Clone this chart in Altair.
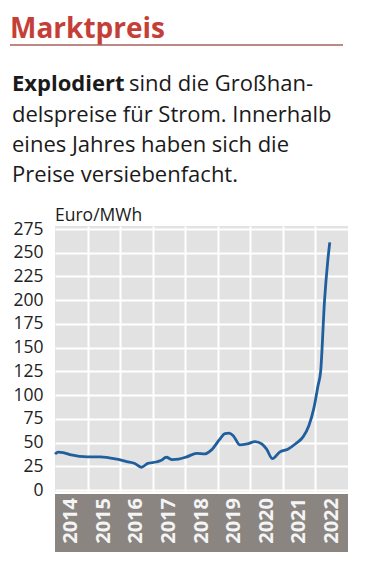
import altair as alt
import pandas as pd

# --- data ---
years_t = [2014.0, 2014.1, 2014.25, 2014.5, 2014.75, 2015.0, 2015.4, 2015.9, 2016.2, 2016.45,
           2016.65, 2016.85, 2017.1, 2017.25, 2017.42, 2017.6, 2017.8, 2018.05, 2018.35, 2018.6,
           2018.8, 2019.05, 2019.22, 2019.35, 2019.48, 2019.68, 2019.9, 2020.15, 2020.35, 2020.5,
           2020.68, 2020.9, 2021.15, 2021.4, 2021.62, 2021.8, 2021.95, 2022.08, 2022.16, 2022.28,
           2022.38, 2022.44]
prices = [38, 40, 39.5, 37, 35.5, 35, 35, 32.5, 30, 28,
          24, 28, 29.5, 31, 34.5, 32, 32.5, 35, 38.5, 38,
          42, 53, 59.5, 60, 57, 47.5, 48.5, 51, 48.5, 43,
          33, 40, 43, 49, 56, 68, 86, 110, 125, 200,
          242, 261]
year_labels = [2014, 2015, 2016, 2017, 2018, 2019, 2020, 2021, 2022]
y_ticks = [0, 25, 50, 75, 100, 125, 150, 175, 200, 225, 250, 275]

title_text = "Marktpreis"
lead_bold = "Explodiert"
lead_rest = " sind die Großhan-"
sub_lines = ["delspreise für Strom. Innerhalb", "eines Jahres haben sich die", "Preise versiebenfacht."]
unit_text = "Euro/MWh"

FONT = "Open Sans"
W, H = 293, 266

df = pd.DataFrame({"year": years_t, "price": prices})
df_years = pd.DataFrame({"label": [str(y) for y in year_labels], "mid": [y + 0.5 for y in year_labels]})
df_band = pd.DataFrame({"a": [2014], "b": [2023]})

xscale = alt.Scale(domain=[2014, 2023], nice=False, zero=False)
yscale = alt.Scale(domain=[-2.1, 278.2], nice=False, zero=False)

line = alt.Chart(df).mark_line(color="#1f5f9e", strokeWidth=2.8, interpolate="monotone").encode(
    x=alt.X("year:Q", scale=xscale,
            axis=alt.Axis(values=[2015, 2016, 2017, 2018, 2019, 2020, 2021, 2022], labels=False,
                          ticks=False, domain=False, title=None, grid=True,
                          gridColor="white", gridWidth=2)),
    y=alt.Y("price:Q", scale=yscale,
            axis=alt.Axis(values=y_ticks, ticks=False, domain=False, title=None, grid=True,
                          gridColor="white", gridWidth=2, labelPadding=12,
                          labelFont=FONT, labelFontSize=17.5, labelColor="#222222")),
)

band = alt.Chart(df_band).mark_rect(color="#8a8581").encode(
    x=alt.X("a:Q", scale=xscale), x2="b:Q",
    y=alt.value(268), y2=alt.value(326),
)

year_text = alt.Chart(df_years).mark_text(
    font=FONT, fontSize=20, fontWeight="bold", color="#f4f4f4",
    angle=270, align="right", baseline="middle"
).encode(
    x=alt.X("mid:Q", scale=xscale), y=alt.value(272), text="label:N"
)

def txt(s, x, y, size, weight="normal", color="#1a1a1a"):
    return alt.Chart(pd.DataFrame({"t": [s]})).mark_text(
        font=FONT, fontSize=size, fontWeight=weight, color=color,
        align="left", baseline="alphabetic"
    ).encode(x=alt.value(x), y=alt.value(y), text="t:N")

title = txt(title_text, -45, -188, 28, "bold", "#c53f39")
rule = alt.Chart(pd.DataFrame({"t": [0]})).mark_rule(color="#a9625b", strokeWidth=1.5).encode(
    x=alt.value(-45), x2=alt.value(288), y=alt.value(-181))
lead1 = txt(lead_bold, -43, -135, 22, "bold")
lead2 = txt(lead_rest, 74, -135, 22)
sub = [txt(s, -43, -104 + 30 * i, 22) for i, s in enumerate(sub_lines)]
unit = txt(unit_text, 0, -5, 17.5)

chart = alt.layer(band, line, year_text, title, rule, lead1, lead2, *sub, unit).properties(
    width=W, height=H,
    autosize=alt.AutoSizeParams(type="none"),
    padding={"left": 47, "top": 218, "right": 10, "bottom": 62},
).configure_view(fill="#e3e2e3", stroke=None)

chart.save("out.html", embed_options={"renderer": "svg", "actions": False})
